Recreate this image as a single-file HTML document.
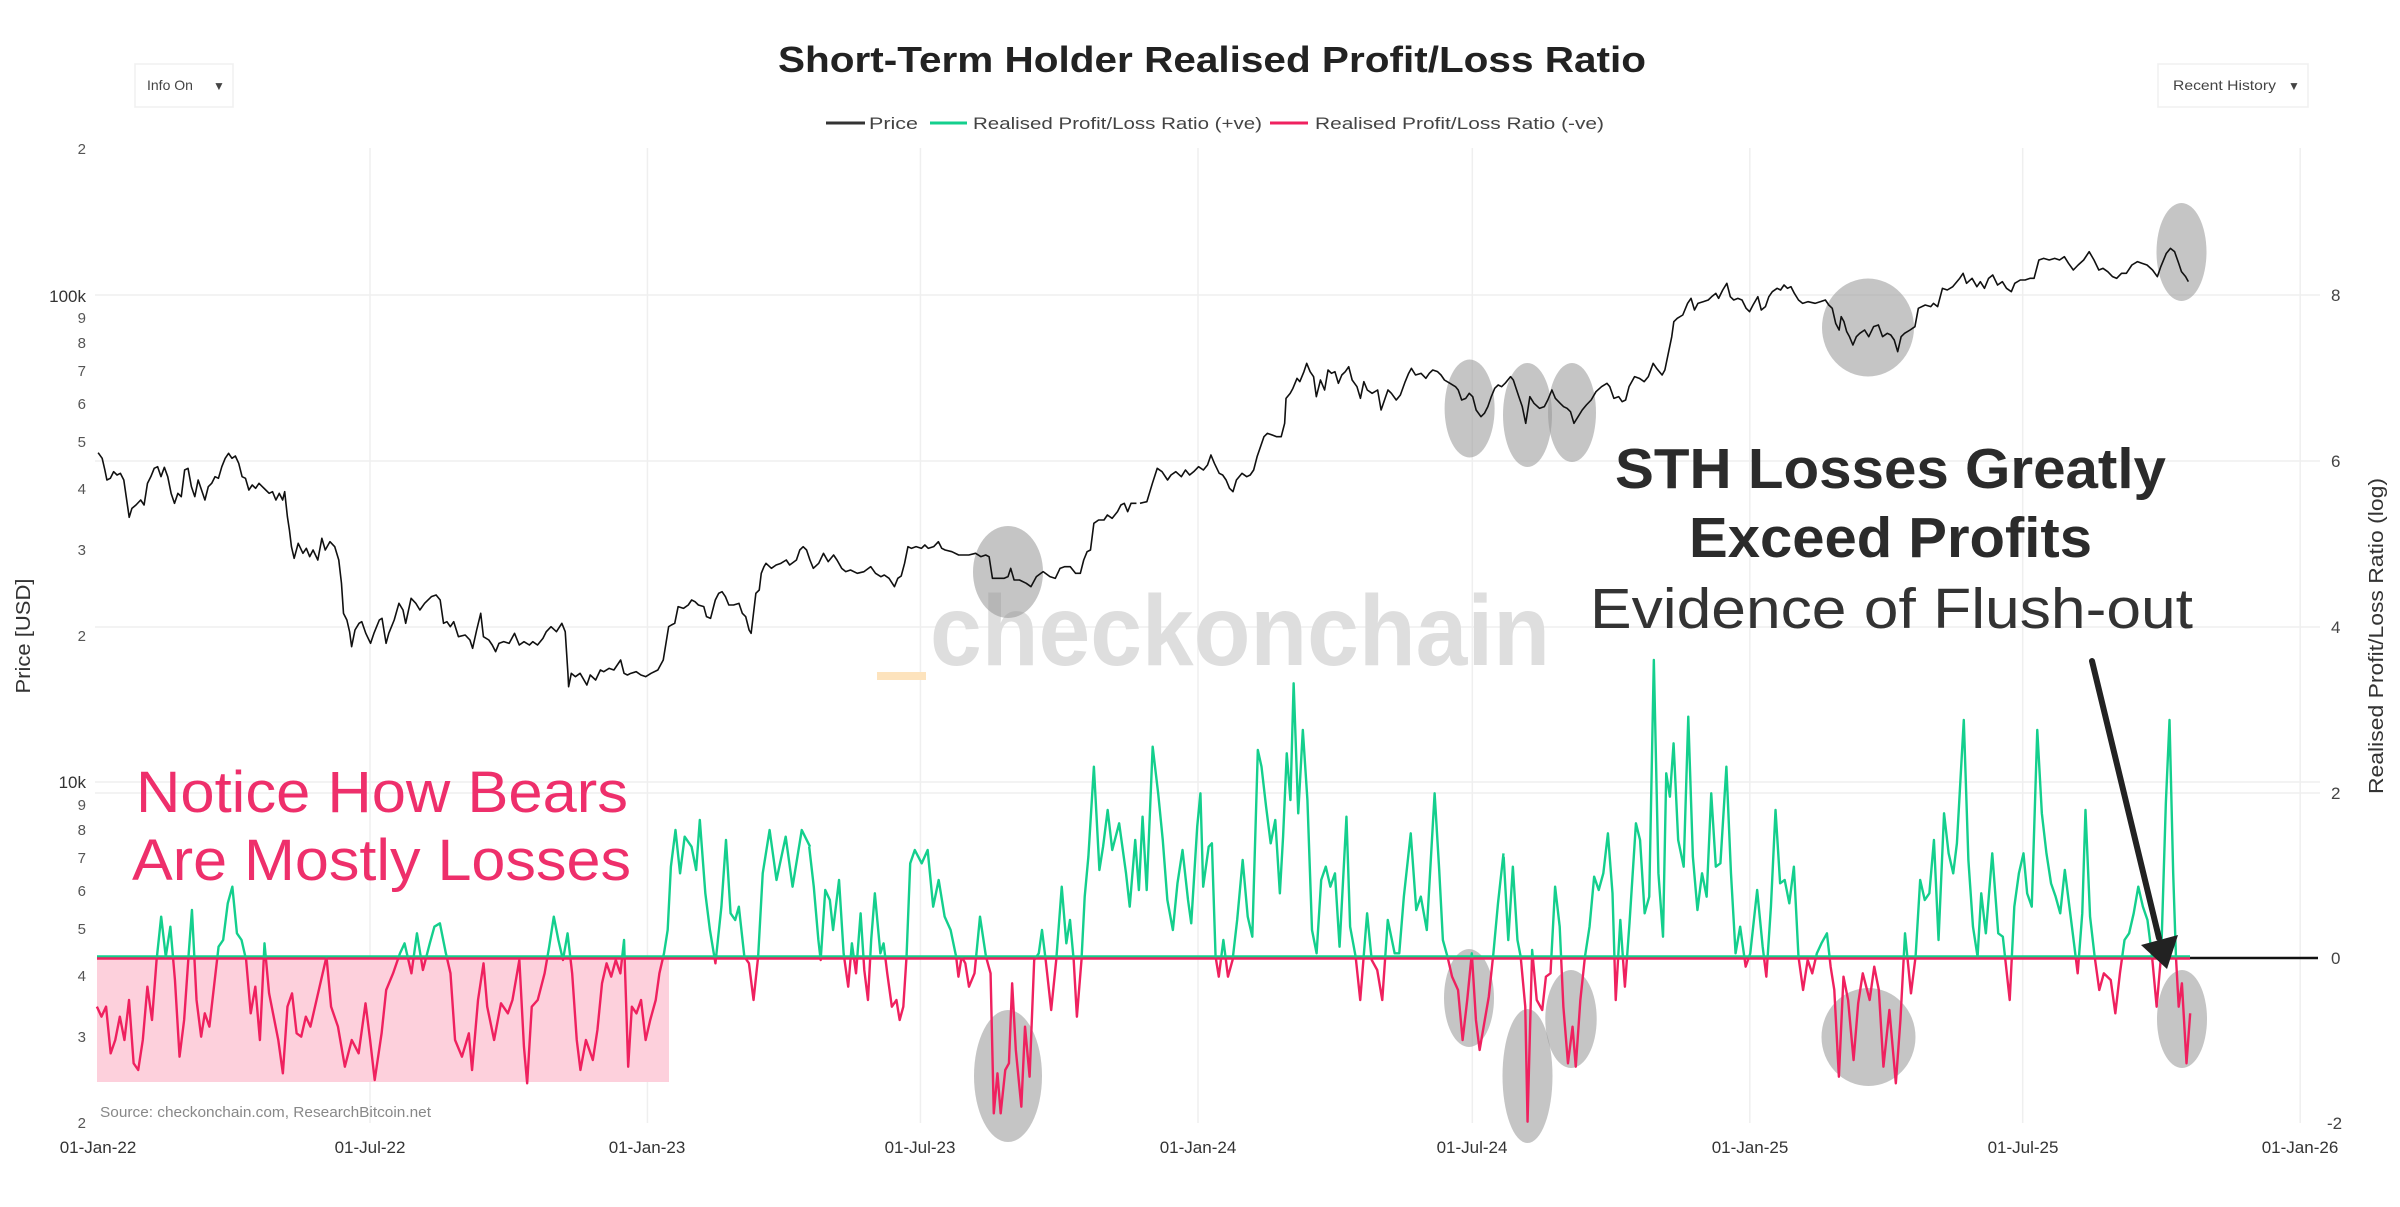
<!DOCTYPE html>
<html><head><meta charset="utf-8"><style>
html,body{margin:0;padding:0;background:#fff;}
svg{display:block;font-family:"Liberation Sans",Arial,sans-serif;}
</style></head><body>
<svg width="2400" height="1207" viewBox="0 0 2400 1207" xmlns="http://www.w3.org/2000/svg">
<defs>
<clipPath id="cg"><rect x="0" y="0" width="2400" height="957.5"/></clipPath>
<clipPath id="cr"><rect x="0" y="957.5" width="2400" height="260"/></clipPath>
</defs>
<rect width="2400" height="1207" fill="#fff"/>

<!-- gridlines -->
<g stroke="#efefef" stroke-width="1.5">
<line x1="370" y1="148" x2="370" y2="1123"/>
<line x1="647.4" y1="148" x2="647.4" y2="1123"/>
<line x1="920.4" y1="148" x2="920.4" y2="1123"/>
<line x1="1198" y1="148" x2="1198" y2="1123"/>
<line x1="1472.3" y1="148" x2="1472.3" y2="1123"/>
<line x1="1749.8" y1="148" x2="1749.8" y2="1123"/>
<line x1="2022.7" y1="148" x2="2022.7" y2="1123"/>
<line x1="2300.2" y1="148" x2="2300.2" y2="1123"/>
<line x1="95" y1="295" x2="2320" y2="295"/>
<line x1="95" y1="461" x2="2320" y2="461"/>
<line x1="95" y1="627" x2="2320" y2="627"/>
<line x1="95" y1="782" x2="2320" y2="782"/>
<line x1="95" y1="793" x2="2320" y2="793"/>
</g>

<!-- title -->
<text x="778" y="72" font-size="36" font-weight="bold" fill="#222" textLength="868" lengthAdjust="spacingAndGlyphs">Short-Term Holder Realised Profit/Loss Ratio</text>

<!-- buttons -->
<rect x="135" y="64" width="98" height="43" fill="#fff" stroke="#f0f0f0" stroke-width="1.5"/>
<text x="147" y="90" font-size="14" fill="#444">Info On</text>
<text x="213" y="90" font-size="12" fill="#444">▼</text>
<rect x="2158" y="64" width="150" height="43" fill="#fff" stroke="#f0f0f0" stroke-width="1.5"/>
<text x="2173" y="90" font-size="14" fill="#444" textLength="103" lengthAdjust="spacingAndGlyphs">Recent History</text>
<text x="2288" y="90" font-size="12" fill="#444">▼</text>

<!-- legend -->
<line x1="826" y1="123" x2="865" y2="123" stroke="#333" stroke-width="3"/>
<text x="869" y="129" font-size="17" fill="#444" textLength="49" lengthAdjust="spacingAndGlyphs">Price</text>
<line x1="930" y1="123" x2="967" y2="123" stroke="#14cf8d" stroke-width="3"/>
<text x="973" y="129" font-size="17" fill="#444" textLength="289" lengthAdjust="spacingAndGlyphs">Realised Profit/Loss Ratio (+ve)</text>
<line x1="1270" y1="123" x2="1308" y2="123" stroke="#ef215f" stroke-width="3"/>
<text x="1315" y="129" font-size="17" fill="#444" textLength="289" lengthAdjust="spacingAndGlyphs">Realised Profit/Loss Ratio (-ve)</text>

<!-- left axis -->
<g font-size="15" fill="#555" text-anchor="end">
<text x="86" y="154">2</text>
<text x="86" y="302" font-size="17" fill="#333">100k</text>
<text x="86" y="323">9</text>
<text x="86" y="348">8</text>
<text x="86" y="376">7</text>
<text x="86" y="409">6</text>
<text x="86" y="447">5</text>
<text x="86" y="494">4</text>
<text x="86" y="555">3</text>
<text x="86" y="641">2</text>
<text x="86" y="788" font-size="17" fill="#333">10k</text>
<text x="86" y="810">9</text>
<text x="86" y="835">8</text>
<text x="86" y="863">7</text>
<text x="86" y="896">6</text>
<text x="86" y="934">5</text>
<text x="86" y="981">4</text>
<text x="86" y="1042">3</text>
<text x="86" y="1128">2</text>
</g>
<text transform="translate(30,636) rotate(-90)" text-anchor="middle" font-size="20" fill="#333" textLength="115" lengthAdjust="spacingAndGlyphs">Price [USD]</text>

<!-- right axis -->
<g font-size="17" fill="#444">
<text x="2331" y="301">8</text>
<text x="2331" y="467">6</text>
<text x="2331" y="633">4</text>
<text x="2331" y="799">2</text>
<text x="2331" y="964">0</text>
<text x="2327" y="1129">-2</text>
</g>
<text transform="translate(2383,636) rotate(-90)" text-anchor="middle" font-size="20" fill="#333" textLength="316" lengthAdjust="spacingAndGlyphs">Realised Profit/Loss Ratio (log)</text>

<!-- x axis labels -->
<g font-size="17" fill="#333" text-anchor="middle">
<text x="98" y="1153">01-Jan-22</text>
<text x="370" y="1153">01-Jul-22</text>
<text x="647" y="1153">01-Jan-23</text>
<text x="920" y="1153">01-Jul-23</text>
<text x="1198" y="1153">01-Jan-24</text>
<text x="1472" y="1153">01-Jul-24</text>
<text x="1750" y="1153">01-Jan-25</text>
<text x="2023" y="1153">01-Jul-25</text>
<text x="2300" y="1153">01-Jan-26</text>
</g>

<!-- watermark -->
<rect x="877" y="672" width="49" height="8" fill="#fde3bd"/>
<text x="930" y="665" font-size="100" font-weight="bold" fill="#dedede" textLength="620" lengthAdjust="spacingAndGlyphs">checkonchain</text>

<!-- pink box -->
<rect x="97" y="957" width="572" height="125" fill="#fdd0dc"/>

<!-- source -->
<text x="100" y="1117" font-size="15" fill="#888" textLength="331" lengthAdjust="spacingAndGlyphs">Source: checkonchain.com, ResearchBitcoin.net</text>

<!-- ellipses -->
<g fill="rgb(150,150,150)" fill-opacity="0.55">
<ellipse cx="1008" cy="572" rx="35" ry="46"/>
<ellipse cx="1469.6" cy="408.5" rx="25" ry="49"/>
<ellipse cx="1527.5" cy="415" rx="24.5" ry="52"/>
<ellipse cx="1572" cy="412.5" rx="24" ry="49.5"/>
<ellipse cx="1868" cy="327.5" rx="46" ry="49"/>
<ellipse cx="2181.5" cy="252" rx="25" ry="49"/>
<ellipse cx="1008" cy="1076" rx="34" ry="66"/>
<ellipse cx="1469" cy="998" rx="25" ry="49"/>
<ellipse cx="1527.5" cy="1076" rx="25" ry="67"/>
<ellipse cx="1571" cy="1019" rx="25.7" ry="49"/>
<ellipse cx="1868.5" cy="1037" rx="47" ry="49"/>
<ellipse cx="2182" cy="1019" rx="25" ry="49"/>
</g>

<!-- price series -->
<g fill="none" stroke="#111" stroke-width="1.6" stroke-linejoin="round">
<path vector-effect="non-scaling-stroke" transform="translate(90,330) scale(0.676,0.33333)" d="M12,368 L18,385 22,420 25,450 30,445 35,425 40,435 45,430 50,450 55,520 58,562 62,535 68,525 75,510 80,525 85,460 90,440 95,415 100,410 105,440 110,412 115,440 120,490 125,520 130,490 135,500 140,420 145,415 150,470 155,500 160,450 165,480 170,510 175,470 180,460 185,440 190,445 195,410 200,385 205,370 210,385 215,378 220,400 225,440 230,445 235,480 240,465 245,475 250,460 255,470 260,480 265,490 270,485 275,510 280,490 285,510 288,485 292,560 295,600 298,650 302,685 308,640 315,670 320,655 325,680 330,660 337,690 343,625 348,660 355,635 362,650 368,690 372,760 375,850 380,870 384,905 387,950 392,900 398,880 402,875 408,910 415,940 420,910 428,870 432,865 438,940 442,910 450,870 457,820 463,840 467,880 475,805 482,820 488,840 495,820 505,800 512,795 518,810 523,880 528,875 533,890 538,875 545,920 555,915 562,930 566,955 572,900 578,850 582,920 590,930 595,945 600,965 605,940 612,935 620,940 628,910 635,945 642,935 650,945 655,935 662,945 670,925 675,905 682,890 690,905 698,880 703,905 707,1030 708,1070 712,1030 718,1040 725,1030 735,1065 740,1035 748,1050 755,1020 760,1025 768,1015 775,1020 785,990 790,1030 795,1035 800,1030 808,1025 815,1035 822,1040 830,1030 840,1020 848,990 852,940 856,890 860,885 865,880 870,830 878,835 885,825 890,810 895,815 900,825 908,830 912,860 918,865 925,810 930,790 935,785 940,800 945,825 952,825 960,820 965,850 970,860 975,900 978,910 985,790 990,780 993,730 997,710 1000,700 1008,715 1015,705 1022,700 1030,690 1035,705 1045,690 1050,660 1055,650 1060,660 1065,690 1070,715 1078,700 1085,670 1092,695 1100,675 1105,690 1112,715 1118,725 1125,720 1135,730 1145,725 1155,710 1162,730 1170,740 1175,735 1182,745 1190,770 1195,745 1200,738 1205,700 1210,650 1215,655 1222,650 1230,655 1235,645 1240,655 1248,650 1255,635 1260,655 1265,660 1275,665 1285,675 1300,675 1310,670 1318,680 1325,675 1330,680 1335,745 1345,745 1352,745 1358,740 1362,715 1367,750 1375,750 1385,760 1392,770 1400,740 1410,725 1420,740 1428,745 1435,715 1442,710 1450,710 1458,730 1465,730 1470,690 1475,665 1480,660 1485,580 1492,570 1500,570 1505,555 1512,565 1520,545 1525,525 1530,520 1535,545 1540,520 1548,520"/>
<path vector-effect="non-scaling-stroke" transform="translate(1140,190) scale(0.6888,0.33333)" d="M0,940 L10,935 18,880 25,835 32,845 40,870 45,855 52,845 60,860 66,840 72,855 78,845 85,830 92,840 98,825 103,795 108,820 115,850 120,855 125,870 130,895 135,905 140,870 148,850 155,860 160,855 165,840 170,800 175,770 180,740 185,730 192,735 198,740 205,740 210,700 212,625 218,610 222,595 228,565 232,575 238,545 242,520 247,545 252,560 256,620 262,570 268,600 273,540 278,550 283,545 288,580 293,555 298,545 303,530 308,570 315,590 320,625 325,575 330,600 337,610 345,600 350,660 355,630 360,600 365,610 372,630 378,615 385,575 390,550 394,535 400,555 408,550 415,565 420,550 425,540 432,545 437,555 442,570 450,580 458,590 462,600 467,630 473,625 478,610 483,620 488,660 495,680 500,670 505,650 510,620 515,595 520,585 525,590 530,580 538,560 542,570 546,595 550,620 555,650 560,700 566,620 572,640 580,655 587,650 592,630 598,600 603,625 610,640 615,650 620,655 625,665 630,700 636,680 642,660 648,645 655,630 662,605 670,590 678,580 682,590 688,625 695,620 700,635 705,630 710,590 718,560 725,565 732,575 738,560 745,520 750,535 758,555 762,540 767,490 772,440 775,395 780,385 788,375 795,340 800,325 805,360 810,340 818,335 825,330 830,320 836,310 840,325 846,300 852,280 857,320 862,330 868,325 874,330 880,355 885,365 890,345 897,320 902,360 908,350 913,320 918,305 925,295 930,300 935,285 940,295 945,290 950,310 956,330 962,340 970,335 980,340 988,335 995,330 1000,345 1005,355 1010,400 1015,420 1018,380 1022,395 1026,425 1030,440 1035,465 1040,440 1045,430 1052,420 1058,440 1065,410 1072,405 1078,440 1085,430 1090,435 1095,450 1100,485 1105,440 1110,430 1118,420 1125,410 1130,355 1140,345 1148,350 1152,340 1158,350 1165,295 1172,300 1180,290 1190,265 1195,250 1200,280 1208,265 1215,290 1220,275 1226,295 1232,265 1238,255 1245,285 1252,275 1258,295 1265,305 1270,280 1278,270 1285,270 1292,265 1298,265 1305,210 1312,205 1320,210 1328,205 1335,210 1342,200 1348,220 1355,240 1362,225 1370,210 1378,185 1385,210 1392,240 1398,235 1405,245 1412,260 1418,265 1425,250 1432,250 1440,225 1448,215 1455,220 1462,225 1470,240 1477,260 1482,230 1490,190 1496,175 1502,185 1508,220 1512,245 1518,260 1522,275"/>
</g>

<!-- zero lines -->
<line x1="97" y1="956.5" x2="2190" y2="956.5" stroke="#14cf8d" stroke-width="2.5"/>
<line x1="97" y1="958.5" x2="2190" y2="958.5" stroke="#ef215f" stroke-width="2.5"/>
<line x1="2190" y1="958" x2="2318" y2="958" stroke="#111" stroke-width="2.5"/>

<!-- ratio series: green (positive) -->
<g clip-path="url(#cg)">
<g fill="none" stroke="#14cf8d" stroke-width="2.4" stroke-linejoin="round">
<use href="#s7"/><use href="#s8"/><use href="#s9"/>
</g>
</g>
<!-- ratio series: red (negative) -->
<g clip-path="url(#cr)">
<g fill="none" stroke="#ef215f" stroke-width="2.4" stroke-linejoin="round">
<use href="#s7"/><use href="#s8"/><use href="#s9"/>
</g>
</g>
<defs>
<path id="s7" vector-effect="non-scaling-stroke" transform="translate(90,640) scale(0.4592,0.33333)" d="M15,1100 L25,1130 35,1100 45,1240 55,1200 65,1130 75,1200 85,1080 95,1270 105,1290 115,1200 125,1040 135,1140 145,960 155,830 165,950 175,860 185,1020 195,1250 205,1140 215,940 222,810 232,1080 242,1190 250,1120 260,1160 270,1040 280,920 290,900 300,790 310,740 320,880 330,900 340,960 350,1120 360,1040 370,1200 380,910 390,1060 400,1130 410,1200 420,1300 430,1100 440,1060 450,1180 460,1190 470,1130 480,1160 490,1100 500,1040 515,950 525,1100 540,1160 555,1280 570,1200 585,1240 600,1090 610,1200 620,1320 635,1180 645,1050 660,1000 675,940 685,910 700,1000 712,880 725,990 740,910 750,860 762,850 775,940 785,1000 795,1200 810,1250 825,1180 832,1290 845,1080 857,970 865,1100 880,1200 895,1090 910,1120 920,1080 935,960 945,1220 952,1330 962,1100 975,1080 990,1000 1000,920 1010,830 1020,900 1030,960 1040,880 1050,1000 1060,1200 1068,1290 1080,1200 1095,1260 1105,1170 1115,1030 1125,970 1135,1010 1145,960 1155,1000 1163,900 1172,1280 1180,1100 1190,1120 1200,1080 1210,1200 1220,1140 1232,1080 1240,1000 1250,940 1258,870 1265,680 1275,570 1285,700 1295,590 1310,620 1320,690 1328,540 1340,760 1350,870 1362,970 1375,800 1385,600 1395,820 1405,840 1413,800 1425,950 1435,970 1445,1080 1455,950 1465,700 1480,570 1495,720 1515,590 1530,740 1550,570 1568,620"/>
<path id="s8" vector-effect="non-scaling-stroke" transform="translate(800,640) scale(0.4592,0.33333)" d="M20,620 L30,740 40,900 45,960 55,750 65,780 72,870 85,720 95,940 105,1040 113,910 122,1000 132,820 140,990 148,1080 155,900 163,760 175,940 182,910 190,1000 200,1100 210,1080 217,1140 225,1100 232,950 240,670 250,630 265,670 278,630 290,800 302,720 315,830 328,870 340,950 345,1010 352,950 360,970 368,1040 380,1000 392,830 405,950 415,1000 422,1420 430,1300 437,1420 447,1290 455,1270 462,1030 470,1230 482,1400 490,1160 500,1310 510,960 520,940 527,870 535,960 547,1110 558,960 570,740 580,910 588,840 596,960 603,1130 613,960 620,770 628,650 640,380 652,690 660,620 670,510 680,630 695,550 710,700 718,800 730,600 738,750 746,530 755,750 768,320 780,460 790,600 800,780 812,870 822,730 833,630 845,780 852,850 865,560 872,460 878,740 890,620 897,610 905,950 912,1010 922,900 932,1010 942,960 952,840 964,660 975,830 985,890 997,330 1005,380 1015,500 1025,610 1035,540 1045,760 1052,590 1060,340 1068,480 1075,130 1085,520 1095,270 1105,480 1115,870 1125,940 1135,720 1145,680 1155,740 1165,700 1175,920 1190,530 1198,860 1210,950 1220,1080 1235,820 1245,960 1257,990 1268,1080 1280,840 1295,940 1305,940 1315,770 1330,580 1342,810 1352,770 1365,870 1382,460 1392,690 1400,900 1410,950 1420,1010 1433,1050 1443,1200 1453,1080 1463,940 1472,1140 1480,1230 1490,1150 1500,1070 1510,940 1520,790 1532,640"/>
<path id="s9" vector-effect="non-scaling-stroke" transform="translate(1500,640) scale(0.4592,0.33333)" d="M8,650 L18,900 28,680 38,900 45,950 55,1100 60,1445 70,930 80,1080 92,1110 100,1010 110,1000 120,740 130,860 138,1100 148,1270 158,1160 165,1280 175,1080 185,950 195,860 205,710 215,750 225,700 235,580 245,760 252,1080 262,840 272,1040 282,850 296,550 305,600 315,820 325,770 335,60 345,700 355,890 362,400 370,470 378,310 388,600 400,680 410,230 420,650 430,810 440,700 450,770 460,460 470,680 480,670 493,380 503,700 513,940 523,860 535,980 545,940 560,750 572,920 580,1010 590,800 600,510 610,730 620,720 630,790 640,680 650,950 660,1050 670,960 680,1000 690,940 700,910 712,880 720,980 728,1050 738,1310 748,1010 758,1080 770,1260 780,1090 790,1000 805,1080 815,980 825,1050 835,1280 848,1110 862,1330 872,1140 882,880 895,1060 905,950 915,720 925,780 935,760 945,600 955,900 967,520 977,640 987,700 995,610 1010,240 1020,660 1030,860 1040,950 1048,760 1058,880 1072,640 1085,880 1095,890 1110,1080 1120,800 1130,700 1140,640 1148,760 1158,800 1170,270 1180,520 1190,640 1200,730 1210,770 1220,820 1230,690 1240,800 1250,910 1258,1000 1268,820 1275,510 1285,830 1295,950 1305,1050 1315,1000 1330,1020 1340,1120 1350,1000 1360,900 1370,880 1380,820 1390,740 1400,800 1410,840 1420,950 1430,1100 1440,940 1450,490 1458,240 1466,700 1472,950 1478,1100 1485,1030 1495,1270 1503,1120"/>
</defs>

<!-- annotations -->
<text x="136" y="812" font-size="58" fill="#ee2f6b" textLength="492" lengthAdjust="spacingAndGlyphs">Notice How Bears</text>
<text x="132" y="880" font-size="58" fill="#ee2f6b" textLength="499" lengthAdjust="spacingAndGlyphs">Are Mostly Losses</text>

<text x="1615" y="488" font-size="57" font-weight="bold" fill="#2b2b2b" textLength="551" lengthAdjust="spacingAndGlyphs">STH Losses Greatly</text>
<text x="1689" y="557" font-size="57" font-weight="bold" fill="#2b2b2b" textLength="403" lengthAdjust="spacingAndGlyphs">Exceed Profits</text>
<text x="1590" y="628" font-size="57" fill="#333" textLength="603" lengthAdjust="spacingAndGlyphs">Evidence of Flush-out</text>

<!-- arrow -->
<line x1="2092" y1="661" x2="2159" y2="938" stroke="#222" stroke-width="6" stroke-linecap="round"/>
<polygon points="2141,945 2178,935 2167,969" fill="#222"/>
</svg>
</body></html>
